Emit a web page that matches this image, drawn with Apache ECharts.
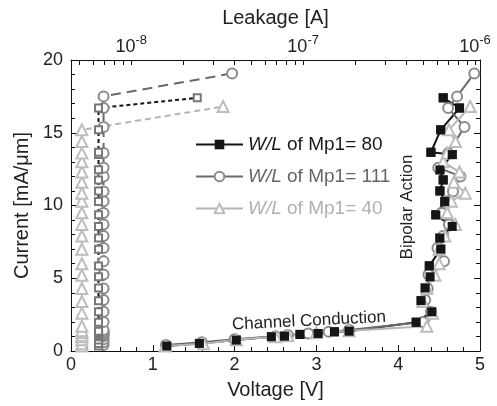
<!DOCTYPE html>
<html>
<head>
<meta charset="utf-8">
<script src="https://cdn.jsdelivr.net/npm/echarts@6/dist/echarts.min.js"></script>
<style>
html, body { margin: 0; padding: 0; background: #fff; }
#chart { width: 497px; height: 406px; }
</style>
</head>
<body>
<div id="chart"></div>
<script>
// legend names
var names = ['W/L of Mp1= 80', 'W/L of Mp1= 111', 'W/L of Mp1= 40'];

// I-V curves, bottom axis (Voltage [V]) vs Current [mA/um]
var voltage80 = [1.17, 1.57, 2.02, 2.45, 2.61, 2.80, 3.02, 3.22, 3.40, 4.22, 4.41, 4.28, 4.33, 4.39, 4.38, 4.52, 4.51, 4.66, 4.46, 4.57, 4.51, 4.55, 4.51, 4.66, 4.40, 4.52, 4.75, 4.55];
var current80 = [0.34, 0.52, 0.75, 0.98, 1.02, 1.14, 1.20, 1.32, 1.36, 1.98, 2.69, 3.46, 4.33, 5.10, 5.85, 7.00, 7.76, 8.56, 9.36, 10.27, 11.00, 11.76, 12.45, 13.50, 13.66, 15.20, 16.70, 17.40];

var voltage111 = [1.16, 1.60, 2.00, 2.50, 2.65, 2.90, 3.15, 3.40, 4.30, 4.40, 4.33, 4.36, 4.37, 4.56, 4.48, 4.55, 4.62, 4.53, 4.60, 4.67, 4.76, 4.49, 4.61, 4.81, 4.61, 4.72, 4.93];
var current111 = [0.42, 0.60, 0.80, 1.02, 1.10, 1.20, 1.33, 1.45, 2.00, 2.70, 3.50, 4.30, 5.25, 6.16, 7.08, 7.90, 8.70, 9.48, 10.30, 10.96, 12.00, 12.60, 13.60, 15.40, 16.70, 17.50, 19.08];

var voltage40 = [1.15, 1.62, 2.02, 2.50, 2.65, 3.00, 3.40, 4.35, 4.42, 4.30, 4.35, 4.45, 4.50, 4.50, 4.57, 4.70, 4.60, 4.65, 4.82, 4.68, 4.75, 4.55, 4.60, 4.70, 4.62, 4.88];
var current40 = [0.35, 0.50, 0.78, 0.98, 1.05, 1.25, 1.40, 1.70, 2.60, 3.40, 4.30, 5.20, 6.00, 7.00, 7.90, 8.70, 9.50, 10.30, 10.85, 11.60, 12.30, 13.00, 13.60, 14.40, 15.20, 16.80];

// leakage [A], top axis, measured at the same current points
var leak80 = [6.45e-9, 6.45e-9, 6.45e-9, 6.45e-9, 6.45e-9, 6.45e-9, 6.45e-9, 6.45e-9, 6.45e-9, 6.45e-9, 6.45e-9, 6.45e-9, 6.45e-9, 6.45e-9, 6.45e-9, 6.45e-9, 6.45e-9, 6.45e-9, 6.45e-9, 6.45e-9, 6.45e-9, 6.45e-9, 6.45e-9, 6.45e-9, 6.45e-9, 6.45e-9, 6.45e-9, 2.42e-8];
var leak111 = [6.9e-9, 6.9e-9, 6.9e-9, 6.9e-9, 6.9e-9, 6.9e-9, 6.9e-9, 6.9e-9, 6.9e-9, 6.9e-9, 6.9e-9, 6.9e-9, 6.9e-9, 6.9e-9, 6.9e-9, 6.9e-9, 6.9e-9, 6.9e-9, 6.9e-9, 6.9e-9, 6.9e-9, 6.9e-9, 6.9e-9, 6.9e-9, 6.9e-9, 6.9e-9, 3.86e-8];
var leak40 = [5.16e-9, 5.16e-9, 5.16e-9, 5.16e-9, 5.16e-9, 5.16e-9, 5.16e-9, 5.16e-9, 5.16e-9, 5.16e-9, 5.16e-9, 5.16e-9, 5.16e-9, 5.16e-9, 5.16e-9, 5.16e-9, 5.16e-9, 5.16e-9, 5.16e-9, 5.16e-9, 5.16e-9, 5.16e-9, 5.16e-9, 5.16e-9, 5.16e-9, 3.42e-8];

// top axis decades
var leakDecades = [-8, -7, -6];
var leakMin = 4.46e-9, leakMax = 1.069e-6;

var font = '"Liberation Sans", Arial, sans-serif';
var c80 = '#151515', c111 = '#6a6a6a', c40 = '#b5b5b5';
var m111 = '#8a8a8a', m40 = '#bdbdbd';

function pairs(xs, ys) {
    return xs.map(function (x, i) { return [x, ys[i]]; });
}
function leakPairs(ls, ys) {
    return ls.map(function (l, i) { return [Math.log10(l), ys[i]]; });
}
// log minor tick positions for the top axis
var logTicks = [];
for (var e = -9; e <= -6; e++) {
    for (var k = 1; k <= 9; k++) {
        var v = Math.log10(k) + e;
        if (v >= Math.log10(leakMin) && v <= Math.log10(leakMax)) logTicks.push(v);
    }
}

var tickStyle = { show: true, inside: true, length: 6, lineStyle: { color: '#111' } };
var minorStyle = { show: true, splitNumber: 5, length: 4, lineStyle: { color: '#111' } };
var lineAx = { show: true, onZero: false, lineStyle: { color: '#111', width: 1 } };

var option = {
    backgroundColor: '#fff',
    animation: false,
    textStyle: { fontFamily: font },
    grid: { left: 71, right: 17, top: 60, bottom: 55 },
    legend: {
        orient: 'vertical',
        left: 190,
        top: 130,
        itemWidth: 47,
        itemHeight: 12,
        itemGap: 13,
        data: [
            { name: names[0], textStyle: { color: '#1a1a1a' } },
            { name: names[1], textStyle: { color: '#666' } },
            { name: names[2], textStyle: { color: '#b0b0b0' } }
        ],
        formatter: function (name) {
            return '{i|W/L}' + name.slice(3);
        },
        textStyle: {
            fontSize: 19,
            fontFamily: font,
            rich: { i: { fontStyle: 'italic', fontSize: 19, fontFamily: font } }
        }
    },
    xAxis: [
        {
            type: 'value', position: 'bottom', min: 0, max: 5, interval: 1,
            name: 'Voltage [V]', nameLocation: 'middle', nameGap: 29,
            nameTextStyle: { fontSize: 20, color: '#222' },
            axisLine: lineAx, axisTick: tickStyle, minorTick: minorStyle,
            axisLabel: { fontSize: 18, color: '#222', margin: 5 },
            splitLine: { show: false }
        },
        {
            type: 'value', position: 'top',
            min: Math.log10(leakMin), max: Math.log10(leakMax),
            name: 'Leakage [A]', nameLocation: 'middle', nameGap: 32,
            nameTextStyle: { fontSize: 20, color: '#222' },
            axisLine: lineAx,
            axisTick: { show: true, inside: true, length: 5, customValues: logTicks, lineStyle: { color: '#111' } },
            axisLabel: {
                customValues: leakDecades, margin: 4, color: '#222',
                formatter: function (v) { return '{b|10}{s|' + Math.round(v) + '}'; },
                rich: {
                    b: { fontSize: 18, color: '#222', lineHeight: 22, verticalAlign: 'bottom' },
                    s: { fontSize: 13, color: '#222', lineHeight: 13, verticalAlign: 'top' }
                }
            },
            splitLine: { show: false }
        }
    ],
    yAxis: [
        {
            type: 'value', position: 'left', min: 0, max: 20, interval: 5,
            name: 'Current [mA/μm]', nameLocation: 'middle', nameGap: 39,
            nameTextStyle: { fontSize: 20, color: '#222' },
            axisLine: lineAx, axisTick: tickStyle, minorTick: minorStyle,
            axisLabel: { fontSize: 18, color: '#222', margin: 8 },
            splitLine: { show: false }
        },
        {
            type: 'value', position: 'right', min: 0, max: 20, interval: 5,
            axisLine: lineAx, axisTick: tickStyle, minorTick: minorStyle,
            axisLabel: { show: false },
            splitLine: { show: false }
        }
    ],
    series: [
        {
            name: names[0], type: 'line', xAxisIndex: 0, yAxisIndex: 0,
            data: pairs(voltage80, current80),
            symbol: 'rect', symbolSize: 9,
            itemStyle: { color: c80 },
            lineStyle: { color: c80, width: 2 }
        },
        {
            name: names[1], type: 'line', xAxisIndex: 0, yAxisIndex: 0,
            data: pairs(voltage111, current111),
            symbol: 'emptyCircle', symbolSize: 10,
            itemStyle: { color: m111, borderWidth: 1 },
            lineStyle: { color: c111, width: 2 }
        },
        {
            name: names[2], type: 'line', xAxisIndex: 0, yAxisIndex: 0,
            data: pairs(voltage40, current40),
            symbol: 'emptyTriangle', symbolSize: 11,
            itemStyle: { color: m40, borderWidth: 1 },
            lineStyle: { color: c40, width: 2 }
        },
        // filled squares redrawn above the grey lines
        {
            name: 'sq80', type: 'scatter', xAxisIndex: 0, yAxisIndex: 0,
            data: pairs(voltage80, current80),
            symbol: 'rect', symbolSize: 9, z: 4,
            itemStyle: { color: c80, opacity: 1 }
        },
        {
            name: 'leak40', type: 'line', xAxisIndex: 1, yAxisIndex: 0,
            data: leakPairs(leak40, current40),
            symbol: 'emptyTriangle', symbolSize: 11,
            itemStyle: { color: m40, borderWidth: 1 },
            lineStyle: { color: c40, width: 2, type: [6, 4] }
        },
        {
            name: 'leak111', type: 'line', xAxisIndex: 1, yAxisIndex: 0,
            data: leakPairs(leak111, current111),
            symbol: 'emptyCircle', symbolSize: 10,
            itemStyle: { color: m111, borderWidth: 1 },
            lineStyle: { color: c111, width: 2, type: [10, 6] }
        },
        {
            name: 'leak80', type: 'line', xAxisIndex: 1, yAxisIndex: 0,
            data: leakPairs(leak80, current80),
            symbol: 'emptyRect', symbolSize: 7,
            itemStyle: { color: '#777', borderWidth: 1 },
            lineStyle: { color: c80, width: 2, type: [4, 3] }
        }
    ],
    graphic: [
        {
            type: 'text', x: 309, y: 321, rotation: 0.05,
            style: { text: 'Channel Conduction', font: '17px ' + font, fill: '#222', align: 'center', verticalAlign: 'middle' }
        },
        {
            type: 'text', x: 407, y: 207, rotation: Math.PI / 2,
            style: { text: 'Bipolar Action', font: '17px ' + font, fill: '#222', align: 'center', verticalAlign: 'middle' }
        }
    ]
};

var chart = echarts.init(document.getElementById('chart'));
chart.setOption(option);
</script>
</body>
</html>
